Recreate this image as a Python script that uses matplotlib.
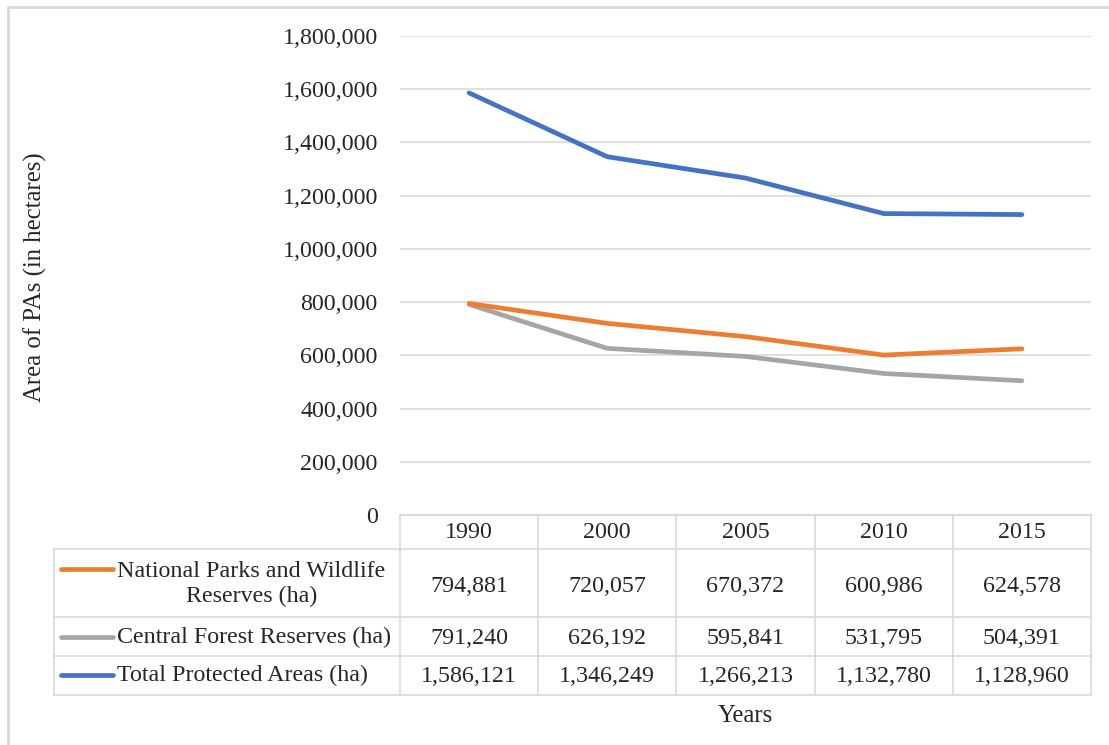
import matplotlib.pyplot as plt
import matplotlib.transforms as mtransforms
from matplotlib.ticker import FuncFormatter

years = ["1990", "2000", "2005", "2010", "2015"]
national_parks = [794881, 720057, 670372, 600986, 624578]
forest_reserves = [791240, 626192, 595841, 531795, 504391]
total_pas = [1586121, 1346249, 1266213, 1132780, 1128960]

series_names = ["National Parks and Wildlife\nReserves (ha)",
                "Central Forest Reserves (ha)",
                "Total Protected Areas (ha)"]
series_values = [national_parks, forest_reserves, total_pas]
series_colors = ["#ed7d31", "#a5a5a5", "#4472c4"]

plt.rcParams["font.family"] = ["Liberation Serif", "DejaVu Serif"]
txt = "#262626"
grid = "#d9d9d9"
fs = 17.3

W, H = 1109, 745
fig = plt.figure(figsize=(W / 100, H / 100), dpi=100)

def fx(px):
    return px / W

def fy(py):
    return 1 - py / H

ax = fig.add_axes([fx(400), fy(515), fx(1091) - fx(400), fy(36) - fy(515)])
x = list(range(len(years)))

# gray under orange, blue on top
for i in [1, 0, 2]:
    ax.plot(x, series_values[i], color=series_colors[i], lw=3.4,
            solid_capstyle="round", solid_joinstyle="round", zorder=3)

ax.set_xlim(-0.5, len(years) - 0.5)
ax.set_ylim(0, 1800000)
ax.set_yticks(range(0, 1800001, 200000))
ax.yaxis.set_major_formatter(FuncFormatter(lambda v, p: f"{int(v):,}"))
ax.tick_params(axis="y", length=0, pad=16, labelsize=fs, labelcolor=txt)
ax.set_xticks([])
ax.grid(axis="y", color=grid, lw=1.2)
ax.set_axisbelow(True)
for s in ax.spines.values():
    s.set_visible(False)

fig.text(fx(35), fy(277), "Area of PAs (in hectares)", rotation=90,
         ha="center", va="center", fontsize=fs + 0.5, color=txt)

# data table under the axis
tr = mtransforms.blended_transform_factory(ax.transData, fig.transFigure)
trf = fig.transFigure
row_edges = [515, 549, 617, 656, 695]
left_px = 54

kw = dict(color=grid, lw=1.2, clip_on=False)
ax.plot([-0.5, len(years) - 0.5], [fy(row_edges[0])] * 2, transform=tr, **kw)
for py in row_edges[1:]:
    fig.add_artist(plt.Line2D([fx(left_px), fx(1091)], [fy(py)] * 2,
                              transform=trf, color=grid, lw=1.2))
for k in range(len(years) + 1):
    ax.plot([k - 0.5] * 2, [fy(row_edges[0]), fy(row_edges[-1])],
            transform=tr, **kw)
fig.add_artist(plt.Line2D([fx(left_px)] * 2, [fy(row_edges[1]), fy(row_edges[-1])],
                          transform=trf, color=grid, lw=1.2))

for k, yr in enumerate(years):
    ax.text(k, fy(533), yr, transform=tr, ha="center", va="center",
            fontsize=fs, color=txt)

key_y = [569, 637, 675]
row_cy = [586, 639, 677]
for r in range(3):
    cy = fy(row_cy[r])
    for k in range(len(years)):
        ax.text(k, cy, f"{series_values[r][k]:,}", transform=tr, ha="center",
                va="center", fontsize=fs, color=txt)
    fig.add_artist(plt.Line2D([fx(61), fx(113)], [fy(key_y[r])] * 2,
                              transform=trf, color=series_colors[r], lw=3.4,
                              solid_capstyle="round"))
    fig.text(fx(117), fy(row_cy[r] - 2), series_names[r], ha="left", va="center",
             multialignment="center", fontsize=fs, color=txt, linespacing=1.25)

fig.text(fx(745), fy(716), "Years", ha="center", va="center",
         fontsize=fs + 0.5, color=txt)

# chart frame (left and top edges visible)
fig.add_artist(plt.Line2D([fx(8), fx(8), fx(1115)], [fy(760), fy(7), fy(7)],
                          transform=trf, color=grid, lw=2))

fig.savefig("out.png", dpi=100)
